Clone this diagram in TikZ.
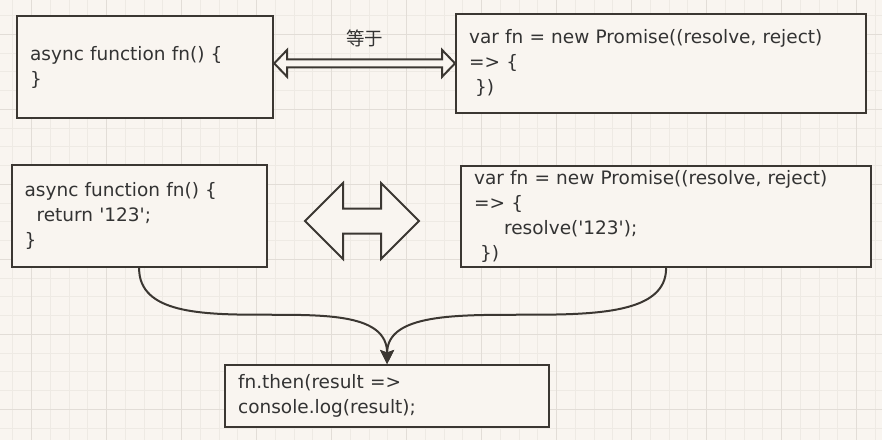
\documentclass[tikz,border=0pt]{standalone}
\usepackage{fontspec}
\usepackage{tikz}
\usetikzlibrary{arrows.meta, positioning, calc}
\newfontfamily\codefont{DejaVu Sans}
\newfontfamily\cjkfont{Noto Sans CJK SC}
\definecolor{paper}{HTML}{F9F5F0}
\definecolor{gridminor}{HTML}{EEEAE4}
\definecolor{gridmajor}{HTML}{E2DDD7}
\definecolor{ink}{HTML}{3B3732}
\definecolor{inktext}{HTML}{333333}
\tikzset{
  code box/.style={
    rectangle, draw=ink, line width=2.2pt, fill=paper,
    anchor=north west, inner xsep=13pt, inner ysep=0pt,
    align=left, text=inktext,
    font=\codefont\fontsize{18.5}{25}\selectfont
  },
  flex arrow/.style={
    draw=ink, line width=2pt, fill=paper, line join=miter
  },
  flow arrow/.style={
    -{Stealth[length=14pt, width=14pt, inset=2.5pt]}, line width=2pt, draw=ink
  },
  cjk label/.style={
    font=\cjkfont\fontsize{18.5}{22}\selectfont, text=inktext
  },
  grid minor/.style={draw=gridminor, line width=1pt},
  grid major/.style={draw=gridmajor, line width=1pt}
}
\begin{document}
\begin{tikzpicture}[x=1pt, y=-1pt]
  \useasboundingbox (0,0) rectangle (882,440);
  \fill[paper] (0,0) rectangle (882,440);
  % background grid
  \foreach \i in {0,...,46}
    \draw[grid minor] ({12.95+18.75*\i},0) -- ({12.95+18.75*\i},440);
  \foreach \j in {0,...,22}
    \draw[grid minor] (0,{15.55+18.75*\j}) -- (882,{15.55+18.75*\j});
  \foreach \i in {0,...,11}
    \draw[grid major] ({31.7+75*\i},0) -- ({31.7+75*\i},440);
  \foreach \j in {0,...,5}
    \draw[grid major] (0,{34.3+75*\j}) -- (882,{34.3+75*\j});

  % boxes
  \node (async1) [code box, text width=230pt, minimum height=102pt] at (16,15)
    {async function fn() \{\\\}};
  \node (promise1) [code box, text width=384pt, minimum height=99.5pt] at (455,12.5)
    {var fn = new Promise((resolve, reject)\\=> \{\\\hspace*{6pt}\})};
  \node (ret1) [code box, text width=229pt, minimum height=102pt] at (10.5,164)
    {async function fn() \{\\\hspace*{12pt}return '123';\\\}};
  \node (promise2) [code box, text width=384pt, minimum height=101pt] at (460,165)
    {var fn = new Promise((resolve, reject)\\=> \{\\\hspace*{30pt}resolve('123');\\\hspace*{6pt}\})};
  \node (then1) [code box, text width=298pt, minimum height=62pt] at (224,364)
    {fn.then(result =>\\console.log(result);};

  % equal arrow
  \coordinate (eqL) at (async1.east |- promise1.west);
  \coordinate (eqR) at (promise1.west);
  \coordinate (eqM) at ($(eqL)!0.5!(eqR)$);
  \draw[flex arrow] (eqL) -- ++(13,-13.5) -- ++(0,9.5) -- ($(eqR)+(-13,-4)$)
    -- ++(0,-9.5) -- (eqR) -- ++(-13,13.5) -- ++(0,-9.5) -- ($(eqL)+(13,4)$)
    -- ++(0,9.5) -- cycle;
  \node (eqtext) [cjk label, above=12.5pt of eqM] {等于};

  % big double arrow
  \coordinate (swap) at (362,221);
  \draw[flex arrow] ($(swap)+(-57,0)$) -- ++(38,-38) -- ++(0,25.5) -- ++(38,0)
    -- ++(0,-25.5) -- ++(38,38) -- ++(-38,38) -- ++(0,-25.5) -- ++(-38,0)
    -- ++(0,25.5) -- cycle;

  % result flow
  \draw[flow arrow] (ret1.south) .. controls +(0,90) and +(0,-90) .. (then1.north);
  \draw[flow arrow] (promise2.south) .. controls +(0,90) and +(0,-90) .. (then1.north);
\end{tikzpicture}
\end{document}
